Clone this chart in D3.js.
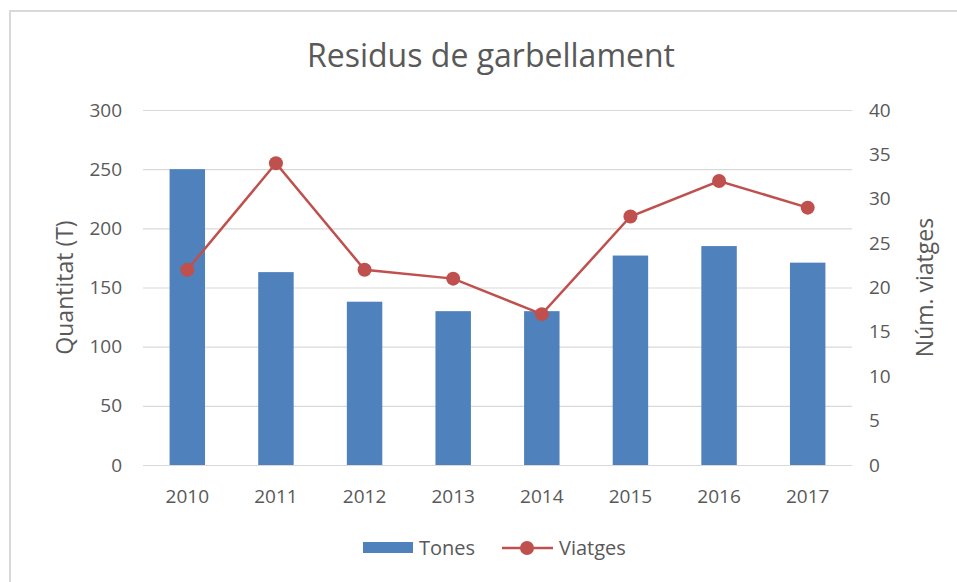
<!DOCTYPE html>
<html>
<head>
<meta charset="utf-8">
<script src="https://cdn.jsdelivr.net/npm/d3@7"></script>
<style>
  body { margin: 0; background: #fff; }
  text { font-family: "Open Sans", sans-serif; fill: #595959; }
</style>
</head>
<body>
<div id="chart"></div>
<script>
// data
const years = ["2010", "2011", "2012", "2013", "2014", "2015", "2016", "2017"];
const tones = [250, 163, 138, 130, 130, 177, 185, 171];
const viatges = [22, 34, 22, 21, 17, 28, 32, 29];
const leftTicks = [0, 50, 100, 150, 200, 250, 300];
const rightTicks = [0, 5, 10, 15, 20, 25, 30, 35, 40];

const width = 957, height = 582;
const margin = {top: 110, right: 105, bottom: 117, left: 143};

const svg = d3.select("#chart").append("svg")
  .attr("width", width)
  .attr("height", height);

// frame around the chart
svg.append("rect")
  .attr("x", 10).attr("y", 11)
  .attr("width", width).attr("height", height)
  .attr("fill", "none")
  .attr("stroke", "#d9d9d9")
  .attr("stroke-width", 2);

const x = d3.scaleBand()
  .domain(years)
  .range([margin.left, width - margin.right])
  .paddingInner(0.6)
  .paddingOuter(0.3);

const yL = d3.scaleLinear().domain([0, 300]).range([height - margin.bottom, margin.top]);
const yR = d3.scaleLinear().domain([0, 40]).range([height - margin.bottom, margin.top]);

// gridlines
svg.append("g")
  .selectAll("line")
  .data(leftTicks)
  .enter().append("line")
  .attr("x1", margin.left)
  .attr("x2", width - margin.right)
  .attr("y1", d => yL(d) + 0.5)
  .attr("y2", d => yL(d) + 0.5)
  .attr("stroke", "#d9d9d9")
  .attr("stroke-width", 1.2);

// left axis labels
const axL = svg.append("g")
  .attr("transform", `translate(${margin.left - 21},0)`)
  .call(d3.axisLeft(yL).tickValues(leftTicks).tickSize(0).tickPadding(0));
axL.select(".domain").remove();
axL.selectAll("text").style("font-size", "19px").attr("fill", "#595959");

// right axis labels
const axR = svg.append("g")
  .attr("transform", `translate(${width - margin.right + 17},0)`)
  .call(d3.axisRight(yR).tickValues(rightTicks).tickSize(0).tickPadding(0));
axR.select(".domain").remove();
axR.selectAll("text").style("font-size", "19px").attr("fill", "#595959");

// bottom axis labels
const axB = svg.append("g")
  .attr("transform", `translate(0,${height - margin.bottom + 24})`)
  .call(d3.axisBottom(x).tickSize(0).tickPadding(0));
axB.select(".domain").remove();
axB.selectAll("text").style("font-size", "19px").attr("fill", "#595959");

// bars
svg.append("g")
  .selectAll("rect")
  .data(years)
  .enter().append("rect")
  .attr("x", d => x(d))
  .attr("width", x.bandwidth())
  .attr("y", (d, i) => yL(tones[i]))
  .attr("height", (d, i) => yL(0) - yL(tones[i]))
  .attr("fill", "#4f81bd");

// line
const line = d3.line()
  .x((d, i) => x(years[i]) + x.bandwidth() / 2)
  .y(d => yR(d));

svg.append("path")
  .datum(viatges)
  .attr("d", line)
  .attr("fill", "none")
  .attr("stroke", "#c0504d")
  .attr("stroke-width", 2.5);

svg.append("g")
  .selectAll("circle")
  .data(viatges)
  .enter().append("circle")
  .attr("cx", (d, i) => x(years[i]) + x.bandwidth() / 2)
  .attr("cy", d => yR(d))
  .attr("r", 7)
  .attr("fill", "#c0504d");

// title
svg.append("text")
  .attr("x", 491)
  .attr("y", 67)
  .attr("text-anchor", "middle")
  .style("font-size", "32px")
  .text("Residus de garbellament");

// axis titles
svg.append("text")
  .attr("transform", `translate(73,${(yL(0) + yL(300)) / 2}) rotate(-90)`)
  .attr("text-anchor", "middle")
  .style("font-size", "23px")
  .text("Quantitat (T)");

svg.append("text")
  .attr("transform", `translate(933,${(yL(0) + yL(300)) / 2}) rotate(-90)`)
  .attr("text-anchor", "middle")
  .style("font-size", "23px")
  .text("Núm. viatges");

// legend
const legend = svg.append("g");
legend.append("rect")
  .attr("x", 363).attr("y", 542)
  .attr("width", 50).attr("height", 11)
  .attr("fill", "#4f81bd");
legend.append("text")
  .attr("x", 419).attr("y", 555)
  .style("font-size", "20px")
  .text("Tones");
legend.append("line")
  .attr("x1", 502).attr("x2", 553)
  .attr("y1", 548).attr("y2", 548)
  .attr("stroke", "#c0504d")
  .attr("stroke-width", 2.5);
legend.append("circle")
  .attr("cx", 527).attr("cy", 548)
  .attr("r", 7)
  .attr("fill", "#c0504d");
legend.append("text")
  .attr("x", 559).attr("y", 555)
  .style("font-size", "20px")
  .text("Viatges");
</script>
</body>
</html>
